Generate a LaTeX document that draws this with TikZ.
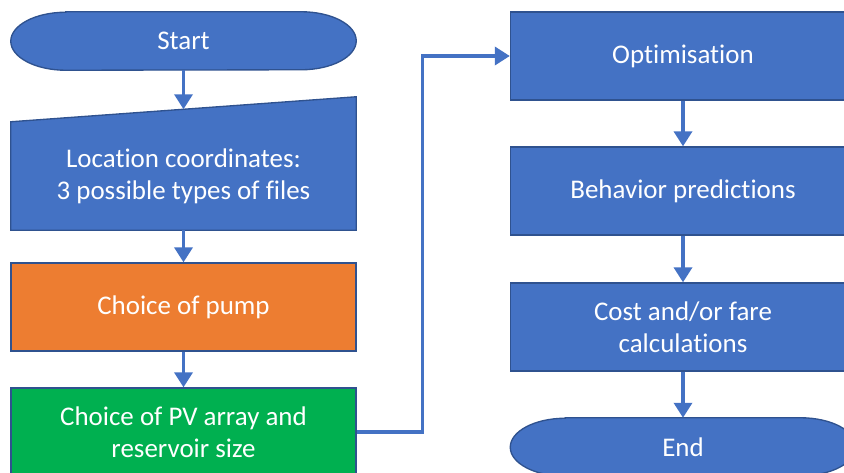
\documentclass[tikz,border=0pt]{standalone}
\usepackage{fontspec}
\setmainfont{Carlito}[Ligatures=NoCommon]
\usetikzlibrary{calc,arrows.meta,backgrounds}
\definecolor{flowblue}{HTML}{4472C4}
\definecolor{flowedge}{HTML}{2F528F}
\definecolor{floworange}{HTML}{ED7D31}
\definecolor{flowgreen}{HTML}{00B050}
\tikzset{
	flowtext/.style={rectangle, text=white, align=center, minimum width=10.35cm, font=\fontsize{23}{27.5}\selectfont},
	flowbox/.style={flowtext, draw=flowedge, line width=0.04cm, fill=flowblue, minimum height=2.64cm},
	flowterm/.style={flowtext, minimum height=1.74cm},
	flowarrow/.style={draw=flowblue, line width=0.105cm, -{Triangle[length=0.45cm,width=0.54cm]}},
	flowline/.style={draw=flowedge, line width=0.04cm, fill=flowblue}
}
\def\termshape#1{\filldraw[flowline] ($(#1.north west)+(55,0)$) -- ($(#1.north east)+(-55,0)$) arc[start angle=90,end angle=-90,x radius=1.65cm,y radius=0.87cm] -- ($(#1.south west)+(55,0)$) arc[start angle=270,end angle=90,x radius=1.65cm,y radius=0.87cm] -- cycle;}

\begin{document}
\begin{tikzpicture}[x=0.03cm,y=-0.03cm]
		%%%%% START %%%%%
		\useasboundingbox (0,0) rectangle (844,472);
		\clip (0,0) rectangle (844,472);
		
		\node[flowterm] (start) at (183.5, 41) {Start};
		\node[flowtext, minimum height=3.24cm] (loc) at (183.5, 176) {Location coordinates:\\3 possible types of files};
		\coordinate (loctop) at ($(loc.north)+(0,-12.5)$);
		\node[flowbox, fill=floworange] (pump) at (183.5, 307) {Choice of pump};
		\node[flowbox, fill=flowgreen] (pv) at (183.5, 432) {Choice of PV array and\\reservoir size};
		
		\node[flowbox] (opt) at (683, 56) {Optimisation};
		\node[flowbox] (beh) at (683, 191) {Behavior predictions};
		\node[flowbox] (cost) at (683, 327) {Cost and/or fare\\calculations};
		\node[flowterm] (end) at (683, 447) {End};
		
		\begin{scope}[on background layer]
			\termshape{start}
			\termshape{end}
			\filldraw[flowline] (loc.south west) -- (loc.south east) -- ($(loc.north east)+(0,-25)$) -- (loc.north west) -- cycle;
		\end{scope}
		
		\draw[flowarrow] (start.south) -- (loctop);
		\draw[flowarrow] (loc.south) -- (pump.north);
		\draw[flowarrow] (pump.south) -- (pv.north);
		\draw[flowarrow] (pv.east) -- ++(66,0) |- (opt.west);
		\draw[flowarrow] (opt.south) -- (beh.north);
		\draw[flowarrow] (beh.south) -- (cost.north);
		\draw[flowarrow] (cost.south) -- (end.north);
		
		%%%%% END %%%%%
	\end{tikzpicture}
\end{document}
